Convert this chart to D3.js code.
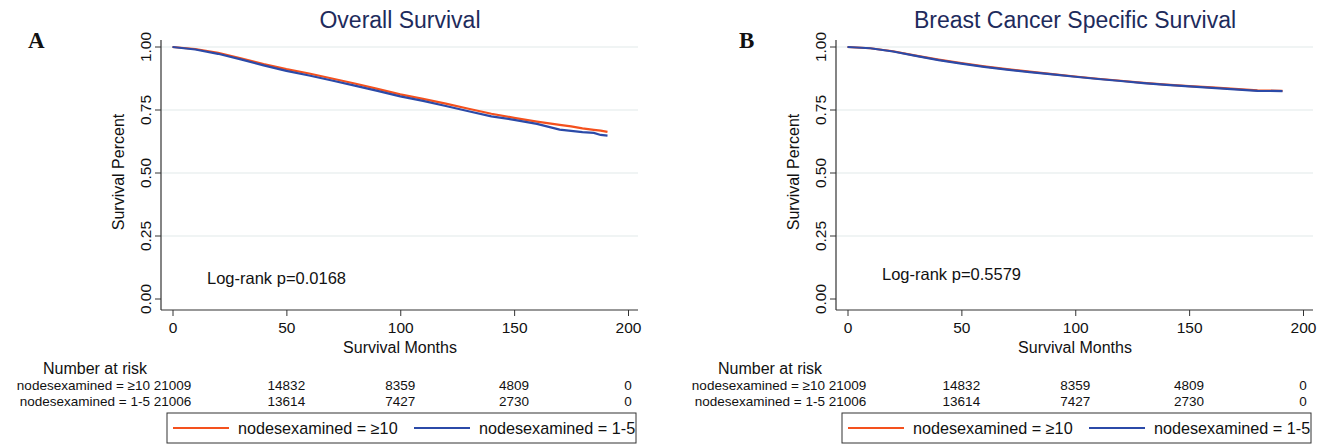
<!DOCTYPE html>
<html>
<head>
<meta charset="utf-8">
<title>Survival curves</title>
<script src="https://cdn.jsdelivr.net/npm/d3@7"></script>
<style>
body { margin: 0; background: #fff; }
svg text { font-family: "Liberation Sans", Arial, sans-serif; fill: #111; }
</style>
</head>
<body>
<div id="chart"></div>
<script>
var osMonths = [0, 10, 20, 30, 40, 50, 60, 70, 80, 90, 100, 110, 120, 130, 140, 150, 160, 170, 175, 180, 185, 188, 191];
var osHigh = [1.000, 0.992, 0.977, 0.955, 0.932, 0.912, 0.895, 0.875, 0.855, 0.834, 0.812, 0.794, 0.775, 0.755, 0.735, 0.719, 0.704, 0.691, 0.685, 0.677, 0.671, 0.668, 0.663];
var osLow = [1.000, 0.990, 0.973, 0.951, 0.927, 0.905, 0.887, 0.867, 0.847, 0.826, 0.804, 0.786, 0.766, 0.745, 0.725, 0.711, 0.695, 0.672, 0.667, 0.662, 0.659, 0.651, 0.648];

var bcMonths = [0, 10, 20, 30, 40, 50, 60, 70, 80, 90, 100, 110, 120, 130, 140, 150, 160, 170, 180, 191];
var bcHigh = [1.000, 0.995, 0.983, 0.966, 0.950, 0.936, 0.923, 0.912, 0.902, 0.892, 0.883, 0.874, 0.866, 0.858, 0.851, 0.845, 0.840, 0.834, 0.828, 0.826];
var bcLow = [1.000, 0.995, 0.982, 0.965, 0.948, 0.934, 0.921, 0.910, 0.900, 0.891, 0.882, 0.873, 0.865, 0.857, 0.850, 0.844, 0.838, 0.832, 0.826, 0.825];

var xTicks = [0, 50, 100, 150, 200];
var yTicks = [0, 0.25, 0.5, 0.75, 1];
var groups = ["nodesexamined = \u226510", "nodesexamined = 1-5"];
var riskHigh = [21009, 14832, 8359, 4809, 0];
var riskLow = [21006, 13614, 7427, 2730, 0];

var colHigh = "#f4511e", colLow = "#2b4aa8";

var panels = [
  { dx: 0, letter: "A", letterX: 28, title: "Overall Survival", p: "Log-rank p=0.0168", pY: 284,
    months: osMonths, high: osHigh, low: osLow },
  { dx: 675, letter: "B", letterX: 739, title: "Breast Cancer Specific Survival", p: "Log-rank p=0.5579", pY: 280,
    months: bcMonths, high: bcHigh, low: bcLow }
];

var svg = d3.select("#chart").append("svg")
  .attr("width", 1328).attr("height", 444);

panels.forEach(function(pn) {
  var g = svg.append("g").attr("transform", "translate(" + pn.dx + ",0)");
  var x = d3.scaleLinear().domain([0, 200]).range([172.5, 628]);
  var y = d3.scaleLinear().domain([0, 1]).range([299, 47]);
  var axisX = 161, axisY = 310, right = 638;

  svg.append("text").attr("x", pn.letterX).attr("y", 48)
    .style("font-family", "'Liberation Serif', 'Times New Roman', serif")
    .style("font-weight", "bold").style("font-size", "23px")
    .text(pn.letter);

  g.append("text").attr("x", 400).attr("y", 28)
    .attr("text-anchor", "middle").style("font-size", "23px")
    .style("fill", "#1e2b5c").text(pn.title);

  // gridlines
  g.selectAll(".grid").data(yTicks.filter(function(d) { return d > 0; }))
    .enter().append("line")
    .attr("x1", axisX).attr("x2", right)
    .attr("y1", function(d) { return y(d); }).attr("y2", function(d) { return y(d); })
    .attr("stroke", "#ebf1f1").attr("stroke-width", 1.5);

  // axes
  var ya = g.append("g").attr("transform", "translate(" + axisX + ",0)")
    .call(d3.axisLeft(y).tickValues(yTicks).tickSize(6).tickFormat(d3.format(".2f")));
  ya.select(".domain").remove();
  ya.selectAll("line").attr("stroke", "#333");
  ya.selectAll("text")
    .attr("transform", function(d) { return "rotate(-90," + (-10) + "," + y(d) + ")"; })
    .attr("x", -10).attr("y", y).attr("dy", 0)
    .attr("text-anchor", "middle")
    .style("font-size", "15.5px").style("font-family", "'Liberation Sans', Arial, sans-serif").attr("fill", "#111");
  ya.selectAll(".tick").attr("transform", null);
  ya.selectAll(".tick line").attr("y1", function(d) { return y(d); }).attr("y2", function(d) { return y(d); });

  var xa = g.append("g").attr("transform", "translate(0," + axisY + ")")
    .call(d3.axisBottom(x).tickValues(xTicks).tickSize(6));
  xa.select(".domain").remove();
  xa.selectAll("line").attr("stroke", "#333");
  xa.selectAll("text").attr("y", 12).attr("dy", "0.71em")
    .style("font-size", "15.5px").style("font-family", "'Liberation Sans', Arial, sans-serif").attr("fill", "#111");

  g.append("line").attr("x1", axisX).attr("x2", axisX).attr("y1", 40).attr("y2", axisY)
    .attr("stroke", "#333").attr("stroke-width", 1.2);
  g.append("line").attr("x1", axisX).attr("x2", right).attr("y1", axisY).attr("y2", axisY)
    .attr("stroke", "#333").attr("stroke-width", 1.2);

  g.append("text").attr("transform", "translate(124,172) rotate(-90)")
    .attr("text-anchor", "middle").style("font-size", "16px").text("Survival Percent");
  g.append("text").attr("x", 400).attr("y", 353)
    .attr("text-anchor", "middle").style("font-size", "16px").text("Survival Months");

  g.append("text").attr("x", 207).attr("y", pn.pY).style("font-size", "16.5px").text(pn.p);

  // curves
  var line = d3.line()
    .x(function(d) { return x(d[0]); })
    .y(function(d) { return y(d[1]); });
  [[pn.high, colHigh], [pn.low, colLow]].forEach(function(s) {
    g.append("path")
      .datum(pn.months.map(function(m, i) { return [m, s[0][i]]; }))
      .attr("d", line).attr("fill", "none")
      .attr("stroke", s[1]).attr("stroke-width", 2.2);
  });

  // number at risk
  g.append("text").attr("x", 43).attr("y", 374).style("font-size", "16px").text("Number at risk");
  [riskHigh, riskLow].forEach(function(r, k) {
    var by = 390 + k * 16;
    g.append("text").attr("x", 150).attr("y", by).attr("text-anchor", "end")
      .style("font-size", "13.5px").text(groups[k]);
    g.selectAll(".risk" + k).data(r).enter().append("text")
      .attr("x", function(d, i) { return x(xTicks[i]); }).attr("y", by)
      .attr("text-anchor", "middle").style("font-size", "13.5px")
      .text(function(d) { return d; });
  });

  // legend
  var lg = g.append("g");
  lg.append("rect").attr("x", 167).attr("y", 413).attr("width", 469).attr("height", 30)
    .attr("fill", "#fff").attr("stroke", "#333").attr("stroke-width", 1);
  [[173, 229, 238, colHigh, groups[0]], [414, 470, 479, colLow, groups[1]]].forEach(function(it) {
    lg.append("line").attr("x1", it[0]).attr("x2", it[1]).attr("y1", 428).attr("y2", 428)
      .attr("stroke", it[3]).attr("stroke-width", 2);
    lg.append("text").attr("x", it[2]).attr("y", 434).style("font-size", "16.2px").text(it[4]);
  });
});
</script>
</body>
</html>
